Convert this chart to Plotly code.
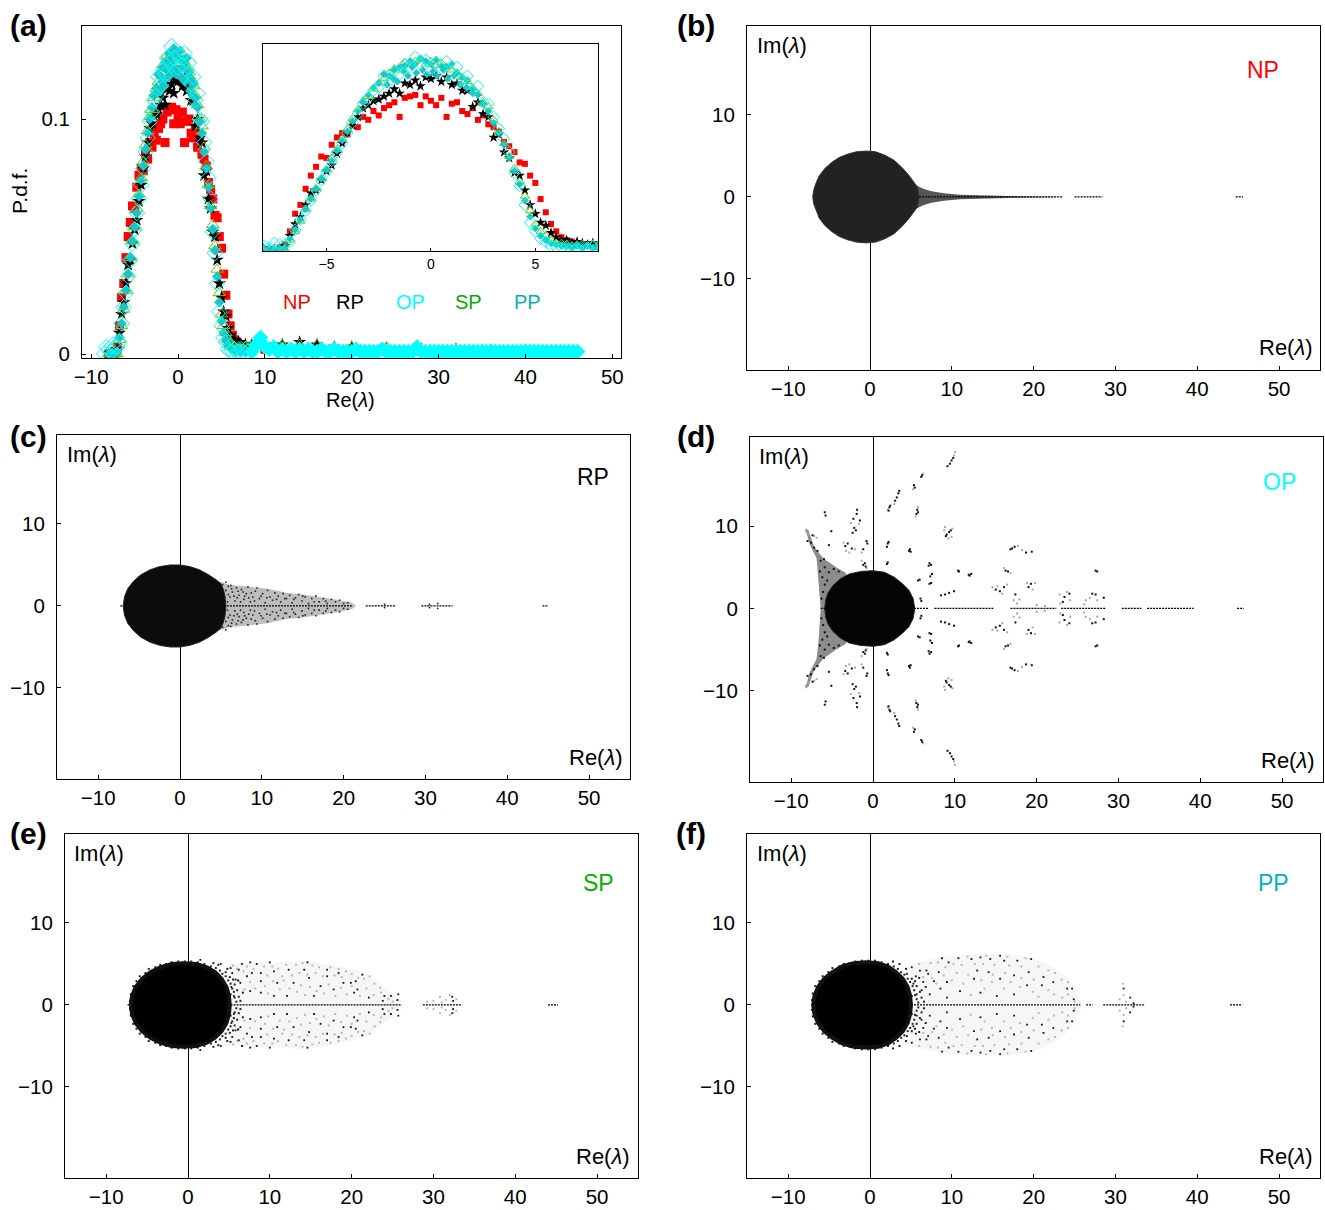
import plotly.graph_objects as go

W, H = 1325, 1210

# ---------- panel (a): probability density of Re(lambda) ----------
core_re = [-8,-7.75,-7.5,-7.25,-7,-6.75,-6.5,-6.25,-6,-5.75,-5.5,-5.25,-5,
           -4.75,-4.5,-4.25,-4,-3.75,-3.5,-3.25,-3,-2.75,-2.5,-2.25,-2,-1.75,
           -1.5,-1.25,-1,-.75,-.5,-.25,0,.25,.5,.75,1,1.25,1.5,
           1.75,2,2.25,2.5,2.75,3,3.25,3.5,3.75,4,4.25,4.5,4.75,
           5,5.25,5.5,5.75,6,6.25,6.5,6.75,7,7.25,7.5,7.75,8]
np_pdf = [0,0,0,.001,.003,.012,.024,.03,.041,.05,.056,.063,.062,
          .071,.076,.079,.078,.085,.083,.09,.088,.094,.091,.096,.098,.1,
          .09,.103,.104,.105,.098,.104,.101,.098,.103,.09,.099,.1,.094,
          .092,.096,.088,.091,.085,.083,.08,.073,.07,.066,.059,.058,.05,
          .045,.034,.025,.017,.012,.008,.006,.005,.004,.003,.003,.002,.002]
rp_pdf = [0,0,0,0,.002,.009,.017,.022,.03,.038,.04,.047,.053,
          .057,.065,.072,.079,.084,.09,.096,.098,.101,.102,.104,.106,.109,
          .106,.113,.112,.115,.111,.117,.116,.118,.114,.117,.112,.113,.108,
          .108,.097,.1,.092,.09,.076,.078,.066,.062,.052,.05,.04,.03,
          .024,.018,.016,.011,.008,.006,.006,.004,.005,.004,.003,.004,.002]
sp_pdf = [0,0,0,0,0,.006,.012,.019,.027,.034,.041,.048,.054,
          .062,.068,.075,.082,.089,.095,.101,.104,.109,.113,.116,.12,.123,
          .122,.127,.126,.128,.129,.126,.128,.125,.127,.124,.122,.12,.117,
          .114,.11,.106,.1,.097,.088,.08,.072,.063,.055,.046,.036,.026,
          .017,.012,.009,.006,.004,.004,.003,.002,.003,.002,.002,.003,.002]
op_pdf = [.002,.001,.004,.003,.003,.005,.013,.02,.026,.033,.04,.047,.053,
          .06,.066,.072,.079,.086,.092,.099,.103,.108,.11,.118,.114,.121,
          .119,.126,.124,.131,.126,.129,.122,.127,.123,.128,.121,.124,.115,
          .118,.108,.111,.1,.099,.09,.082,.075,.066,.052,.043,.03,.018,
          .012,.007,.005,.002,.001,.001,.002,.001,.001,.002,.001,.002,.001]
pp_pdf = [0,0,0,0,.001,.007,.013,.02,.027,.034,.041,.048,.054,
          .06,.067,.074,.08,.087,.094,.1,.105,.11,.113,.119,.118,.122,
          .124,.125,.128,.126,.13,.128,.126,.129,.125,.124,.126,.12,.117,
          .115,.109,.105,.099,.094,.086,.079,.071,.062,.053,.044,.033,.022,
          .014,.009,.006,.004,.003,.002,.002,.001,.002,.001,.002,.001,.001]
pp_peak_re = [-2.1,-1.8,-1.6,-1.3,-1.1,-.9,-.7,-.4,-.2,.1,.3,.6,.8,1.1,1.4,1.7,2]
pp_peak = [.112,.116,.114,.121,.118,.124,.12,.122,.119,.121,.118,.122,.116,.118,.112,.11,.106]

tail_re = [8.5,10,12,14,16,18,20,24,28,32,36,40,44]
rp_tail = [.004,.004,.004,.005,.004,.003,.003,.002,.002,.002,.001,.001,.001]
sp_tail = [.004,.004,.004,.004,.004,.003,.003,.003,.002,.002,.002,.002,.001]
np_tail = [.003,.002,.002,.002,.001,.001,.001,.001,.001,.001,.001,.001,.001]

op_tail_re = [8.5,9,9.5,10,10.5,11,11.5,12,12.5,13,13.5,14,14.5,
              15,15.5,16,16.5,17,17.5,18,18.5,19,19.5,20,20.5,21,
              21.5,22,22.5,23,23.5,24,24.5,25,25.5,26,26.5,27,27.5,
              28,28.5,29,29.5,30,30.5,31,31.5,32,32.5,33,33.5,34,
              34.5,35,35.5,36,36.5,37,37.5,38,38.5,39,39.5,40,40.5,
              41,41.5,42,42.5,43,43.5,44,44.5,45,45.5,46]
op_tail = [.001,.004,.007,.003,.002,.003,.001,.002,.001,.002,.001,.002,.001,
           .002,.001,.001,.002,.001,.001,.002,.001,.001,.001,.001,.002,.001,
           .001,.001,.001,.001,.002,.001,.001,.001,.001,.001,.001,.001,.003,
           .001,.001,.001,.001,.001,.001,.001,.001,.001,.001,.001,.001,.001,
           .001,.001,.001,.001,.001,.001,.001,.001,.001,.001,.001,.001,.001,
           .001,.001,.001,.001,.001,.001,.001,.001,.001,.001,.001]
op_left_re = [-8.5,-8.25]
op_left = [0,.003]

series_names = ["NP", "RP", "OP", "SP", "PP"]

# ---------- spectra: upper half-plane (the spectrum is symmetric about Im = 0) ----------
b_blob = [(-7,0),(-6.9,.8),(-6.6,1.7),(-6.2,2.6),(-5.5,3.5),(-4.7,4.2),(-3.8,4.8),(-2.8,5.2),(-1.7,5.5),
          (-.5,5.6),(.7,5.5),(1.8,5.1),(2.9,4.5),(3.9,3.6),(4.7,2.7),(5.3,1.9),(5.8,1.2),(6,0)]
b_tail = [(5.5,1.5),(6.5,1.0),(7.5,.7),(9,.45),(11,.28),(14,.18),(18,.1),(22,.04),(23,0)]
b_axis = [(6,23.5),(25,28.4),(44.7,45.6)]

c_blob = [(-6.95,0),(-6.8,1.1),(-6.4,2.1),(-5.7,3),(-4.8,3.8),(-3.7,4.4),(-2.5,4.8),(-1.2,5),(0,5),
          (1.2,4.8),(2.4,4.4),(3.5,3.8),(4.4,3.2),(5,2.7),(5.3,2),(5.5,1.2),(5.6,0)]
c_tail = [(4.8,3),(6,2.6),(8,2.4),(10.7,2.1),(13,1.6),(15,1.4),(17,1.1),(19,.8),(21,.4),(21.5,0)]
c_axis = [(-7.3,-6.9),(5,21),(22.7,26.4),(29.5,33.3),(44.3,45)]
c_dark = [(5.2,2.6),(5.6,1.9),(5.9,2.4),(6.1,1.1),(6.4,1.7),(6.7,.6),(6.9,2.2),(7.2,1.3),(7.5,2),(7.8,.8),
          (8.1,1.5),(8.3,2.3),(8.6,.5),(8.9,1.1),(9.2,1.8),(9.4,2.2),(9.7,.9),(10.1,1.5),(10.4,.4),(10.7,1.9),
          (11,1.1),(11.3,.7),(11.6,1.6),(12,1.2),(12.3,.5),(12.6,1.5),(13,.9),(13.4,1.3),(13.7,.4),(14.1,1),
          (14.5,1.4),(14.9,.6),(15.3,1.1),(15.7,.3),(16.1,.9),(16.6,1.2),(17,.5),(17.5,.9),(18,.3),(18.5,.8),
          (19,.5),(19.5,.7),(20,.3),(20.5,.4),(5.4,1.1),(5.8,.5),(6.3,2.1),(7,1),(7.7,1.7),(8.4,1),
          (5.6,2.9),(5.9,1.4),(6.2,2.5),(6.6,1.2),(7.1,1.8),(7.4,.5),(7.9,1.2),(8.7,1.6),(9.1,.6),(9.9,1.2),
          (10.6,1),(11.8,.8),(12.8,.9),(13.9,.8),(15,1.2),(16.4,.5),(17.8,.6),(25,.2),(30.5,.2),(31.5,.3)]

e_blob = [(-7,0),(-6.85,1.1),(-6.4,2.2),(-5.6,3.2),(-4.6,4),(-3.4,4.6),(-2,5),(-.5,5.1),(1,5),
          (2.3,4.6),(3.3,4),(4.1,3.2),(4.7,2.2),(5,1.1),(5.1,0)]
e_tail = [(5,5),(8,5.2),(11,5.2),(14.5,5.4),(18,4.8),(21,4.1),(23,3),(25,1.5),(26.5,0)]
e_axis = [(-7.4,-6.9),(5.2,26),(28.7,33.5),(44,45.2)]
e_dark = [(1.5,5.5),(4,5),(5.4,3.9),(6.6,5),(7.6,5.2),(8.4,5),(10,5.2),(7.2,3.5),(8.9,1.5),(8.9,2.9),
          (10.5,4.1),(12.3,4.3),(14.2,4.3),(14.6,5.2),(17,4.3),(18.4,3.9),(19,2.7),(20.5,2.9),(21.3,3.7),
          (20.7,1.9),(16.2,2.3),(15.4,1.1),(12.1,1.1),(10.5,1.1),(7.6,1.7),(10.9,2.7),(12.9,2.7),(14.8,3.3),
          (8.9,3.9),(7.8,3.9),(6.4,2.7),(5.6,1.1),(24,1.1),(24.8,1.1),(25.7,1.3),(25.6,.6),(32.4,.5),(32.3,1),
          (23.8,.5),(22.1,.9),(20.3,1.5),(17.8,1.9),(17,3.5),(19.9,2.7),(5.3,2.2),(5.8,3.1),(6.2,4.3),(5.2,4.5)]
e_edge = [(-7.1,.5),(-7,1.3),(-6.7,2.3),(-6.3,2.9),(-5.9,3.5),(-5.2,3.9),(-4.8,4.4),(-4,4.6),(-3.4,4.9),(-2.7,5),
          (-2,5.2),(-1.2,5.3),(-.4,5.3),(.4,5.3),(1.2,5.2),(2,5),(2.8,4.7),(3.4,4.5),(3.9,4.2),(4.2,3.8),
          (4.6,3.5),(4.9,3),(5.2,2.6),(5.4,2),(5.6,1.6),(5.7,.9),(5.9,.4),(4.6,4),(5.1,3.4),(5.7,2.5),
          (6,1.8),(6.2,1),(6.4,.5),(6.7,1.5),(6.1,3),(5.5,3.1),(4.8,4.4),(3.7,4.9),(3.1,5.1),(5.2,1.3)]
e_grey = [(5.5,4.8),(6,4.4),(6.8,4.1),(7.2,4.7),(8,4.4),(9.3,4.7),(9.7,3.6),(10.3,4.7),(11,4.4),(11.5,3.5),
          (12,4.9),(12.7,3.6),(13.2,4.9),(13.6,3.9),(14,5.1),(14.6,3.7),(15.2,4.8),(15.6,3.9),(16,4.6),(16.5,3.5),
          (17.4,4.6),(17.9,3.6),(18.4,4.4),(18.8,3.4),(19.3,4.1),(20,3.8),(20.8,3.3),(21.5,3.2),(22.2,3.5),(22.8,2.6),
          (23.5,2.1),(6.2,2.9),(6.9,1.9),(7.6,2.8),(8.2,2),(9.4,2.3),(9.8,1.4),(10.4,2.9),(11.2,1.9),(11.7,3),
          (12.4,2),(13.3,1.6),(13.8,2.4),(14.3,1.2),(14.9,2.2),(15.7,1.7),(16.6,1.4),(17.2,2.5),(18,1.1),(18.7,2.1),
          (19.4,1.3),(20,2.3),(21,1.1),(21.8,2),(22.7,1.2),(23.6,1.5),(24.5,.7),(25,.4),(29.2,.4),(30,.5),
          (30.8,1),(31.5,.6),(32,1.2),(32.8,.7),(31,.3)]

f_blob = [(-6.95,0),(-6.8,1.1),(-6.35,2.2),(-5.6,3.2),(-4.6,4),(-3.4,4.7),(-2,5.1),(-.5,5.2),(1,5.1),
          (2.2,4.7),(3.2,4),(4,3.2),(4.6,2.2),(4.9,1.1),(5,0)]
f_tail = [(5,5),(9,5.9),(13,6.2),(17,6.2),(20,5.7),(22.5,4.6),(24.5,3),(26,0)]
f_axis = [(-7.2,-6.9),(5,25.7),(26.4,27.2),(28.5,33.5),(44,45.5)]
f_dark = [(8.8,5.7),(9.6,5.2),(10.8,5.7),(12.4,5.6),(13.5,5.8),(14.7,5.6),(15.9,6),(16.4,5.4),(18,5.4),(19.7,5.6),
          (19.4,4),(21.2,3.4),(21,2.4),(24.7,2),(24.9,.7),(31,2),(31.8,.9),(32.2,.2),(6.9,4.2),(7.1,3.8),
          (6.1,4.2),(5.1,4.6),(8.4,4),(9.4,2.8),(8.6,2),(11,1.7),(12.7,3.2),(13.1,4.2),(14.5,4),(15.9,3.2),
          (17.6,3.6),(19.2,2.4),(13.5,1.5),(15.5,1.1),(6.5,2.8),(5.7,1.3),(7.3,1.3),(9.4,.9),(17.6,1.3),(22.4,2.8),
          (24.1,2),(5.3,2.6),(5.6,3.5),(6.3,1.8),(7.8,2.9)]
f_edge = [(-7.1,.6),(-7,1.4),(-6.7,2.3),(-6.2,2.9),(-5.8,3.5),(-5.1,4),(-4.6,4.5),(-3.8,4.7),(-3.2,5),(-2.5,5.1),
          (-1.8,5.3),(-1,5.4),(-.2,5.4),(.6,5.4),(1.4,5.2),(2.2,5),(2.9,4.7),(3.4,4.4),(3.8,4),(4.2,3.7),
          (4.6,3.2),(4.9,2.8),(5.2,2.3),(5.4,1.8),(5.5,1.2),(5.7,.7),(5.9,.3),(4.5,3.8),(5.1,3.2),(5.7,2.3),
          (6.1,1.6),(6.3,.9),(6.6,.4),(6.8,2.2),(6,3.3),(5.5,2.9),(4.4,4.4),(3.6,5),(2.8,5.3),(5.1,1.1)]
f_grey = [(6,5),(7.4,5.1),(8.3,5.2),(9.2,4.6),(10.2,5),(11.2,4.9),(11.9,5.9),(12.8,5),(13.8,5),(14.2,6),
          (15.2,4.9),(16.8,5.9),(17,4.8),(18.5,4.7),(19,5.7),(20.6,4.7),(21.8,4.2),(22.6,3.9),(23.4,3.1),(24.2,2.8),
          (6.5,3.4),(7.6,3.3),(8.1,2.6),(9,3.6),(10,3),(10.6,3.9),(11.4,2.6),(12,3.7),(12.3,1.2),(13.6,3),
          (14,2),(14.9,2.8),(15,3.7),(16.4,2),(16.5,3.9),(17.2,2.8),(18.3,2.2),(18.5,3.3),(19.9,1.6),(20,3.1),
          (20.6,1),(21.8,1.8),(22.5,1.3),(23.5,.9),(24.2,1.3),(25,.4),(30.5,.7),(31,1.2),(31.3,.4),(30.9,2.6)]

d_blob = [(-5.9,0),(-5.8,1),(-5.5,1.9),(-4.9,2.8),(-4,3.6),(-2.9,4.2),(-1.5,4.5),(0,4.6),(1.4,4.4),
          (2.6,3.8),(3.6,3),(4.4,2.2),(4.9,1.2),(5.1,0)]
d_wing = [(-6.4,0),(-6.65,3.7),(-6.9,6.1),(-7.7,7.7),(-8.3,9.75),(-7.9,9.5),(-7.2,7.5),(-6.1,6.1),
          (-4.5,5),(-3.3,4.3),(-3,0)]
d_axis = [(5,6.8),(7.5,14.8),(16.8,22.4),(23,28.5),(30.4,32.8),(33.5,39.2),(44.5,45.3)]
d_dark = [(9.4,17.6),(9.6,18),(9.1,17.3),(9.8,18.3),(6,16.2),(5.9,16),(5,15),(5.1,14.7),(3.1,14),(2.9,13.5),
          (3.2,14.3),(2.7,13.1),(2,12.3),(1.9,11.9),(2.1,12.5),(5.4,12),(5.3,11.5),(5.5,11.7),(9,9),(9.3,9.3),
          (9.5,9.5),(8.9,8.8),(1.8,7.9),(1.7,7.5),(1.9,8.1),(4.5,7.2),(4.4,7),(4.6,6.9),(1.7,5.4),(1.8,5.6),
          (6.9,5.5),(7.1,5.3),(6.8,5.2),(10.4,4.6),(10.5,4.5),(11.7,4.1),(12,4.2),(11.8,4),(7.2,4.2),(7,3.9),
          (5.5,3.4),(5.7,3.5),(6.9,3),(7.1,3.1),(8.3,1.6),(8.8,1.7),(9.3,1.9),(9.9,2.1),(5.8,1.2),(5.9,.9),
          (17,7.3),(17.3,7.5),(16.8,7.2),(18.7,6.8),(19.4,6.9),(16.2,4.6),(16.5,4.5),(27.2,4.6),(27.4,4.5),(15,2.3),
          (15.5,2.1),(16,2.6),(19.3,3),(19,2.6),(17.4,1.7),(23.4,1.4),(24,1.8),(23.2,.8),(26.8,1.8),(27.2,1.7),
          (28.2,1.3),(-5.9,11.7),(-5.8,11.3),(-1.95,12),(-2,11.5),(-2.4,10.9),(-1.6,10.7),(-2.3,9.8),(-2.1,9.5),(-2.5,9.2),
          (-5.1,9.4),(-7.4,8.9),(-8,8.2),(-7.6,8),(-7.2,7.4),(-6.8,7),(-5.4,7.7),(-3.1,7.9),(-2.6,7.3),(-3.4,7.6),
          (-1.2,7.2),(-.8,8.2),(-.7,7.9),(-1,5.5),(-.9,5.1),(-1.2,5.3),(-6.4,5.8),(-5.9,5),(-5.4,4.4),(-6.2,3.8),
          (-5.9,2.9),(-6.1,2),(-6.3,1.2),(-5.6,3.4),(-4.8,4.8),(-4.2,4.5),(-6.5,4.5),(-6,6)]
d_grey = [(10,19),(9.9,18.6),(6.1,16.4),(4.9,14.5),(2.6,12.7),(1.8,12),(5.5,12.3),(5.2,11.2),(8.7,9.5),(9.7,9.7),
          (9.2,8.5),(9.6,8.7),(8.8,9.9),(15.2,2.7),(15.8,1.8),(16.4,2.9),(14.6,2.6),(19.8,3.1),(19.5,2.3),(18.8,3.1),
          (17.9,1.1),(17.2,1),(17.6,.6),(22.8,1.7),(23.7,2),(24.1,1),(22.9,.6),(26.5,1.3),(26,1),(27.4,1),
          (25.8,.5),(18.2,7.1),(17.7,7.6),(16,4.9),(16.8,4.3),(21,.3),(20,.4),(-3.6,8),(-2.9,6.8),(-2.2,7.2),
          (-3.3,7),(-1.4,6.8),(-1.7,10.3),(-2.7,10.4),(-1.4,5.8),(-.8,4.9),(-7.2,8.8),(-6.9,8.6),(-8.2,9.4),(-7.9,9)]

# ---------- axis ticks ----------
re_ticks = [-10, 0, 10, 20, 30, 40, 50]
im_ticks = [-10, 0, 10]
inset_ticks = [-5, 0, 5]
pdf_ticks = [0, 0.1]

# ---------- styling / layout ----------
FONT = "Liberation Sans"
RED, GREEN, CYAN, TEAL = "#ff0000", "#00b000", "#00ffff", "#00b4b4"
LAMBDA = "<i>λ</i>"


def dom_x(a, b):
    return [a / W, b / W]


def dom_y(top, bottom):
    return [1 - bottom / H, 1 - top / H]


fig = go.Figure()
axes = {}


def add_axes(n, frame, xr, yr, xt, yt, size=20.5, xstand=0, ystand=7, zero=False, ticklen=4):
    l, r, t, b = frame
    sx = "" if n == 1 else str(n)
    common = dict(showgrid=False, showline=True, linecolor="black", linewidth=1, mirror=True,
                  automargin=False, ticks="inside", ticklen=ticklen, tickcolor="black", tickwidth=1,
                  tickfont=dict(family=FONT, size=size, color="black"))
    axes["xaxis" + sx] = dict(common, domain=dom_x(l, r), range=xr, tickvals=xt, anchor="y" + sx,
                              ticklabelstandoff=xstand,
                              zeroline=zero, zerolinecolor="black", zerolinewidth=1.4)
    axes["yaxis" + sx] = dict(common, domain=dom_y(t, b), range=yr, tickvals=yt, anchor="x" + sx,
                              ticklabelstandoff=ystand, zeroline=False)
    return dict(xaxis="x" + sx, yaxis="y" + sx)


def split(pairs):
    return [p[0] for p in pairs], [p[1] for p in pairs]


def mirrored(pairs):
    xs, ys = split(pairs)
    return xs + xs[::-1], ys + [-v for v in ys[::-1]]


def both_sides(pairs):
    xs, ys = split(pairs)
    return xs + xs, ys + [-v for v in ys]


def poly(ax, pairs, color, edge=None, edge_w=0):
    xs, ys = mirrored(pairs)
    fig.add_trace(go.Scatter(x=xs, y=ys, mode="lines", fill="toself", fillcolor=color,
                             line=dict(color=edge or color, width=edge_w), hoverinfo="skip",
                             showlegend=False, **ax))


def dots(ax, pairs, color, size=2):
    xs, ys = both_sides(pairs)
    fig.add_trace(go.Scatter(x=xs, y=ys, mode="markers", showlegend=False, hoverinfo="skip",
                             marker=dict(symbol="square", size=size, color=color, line=dict(width=0)), **ax))


def axis_runs(ax, runs, dash="2px,1px"):
    xs, ys = [], []
    for a, b in runs:
        xs += [a, b, None]
        ys += [0, 0, None]
    fig.add_trace(go.Scatter(x=xs, y=ys, mode="lines", line=dict(color="black", width=1.2, dash=dash),
                             hoverinfo="skip", showlegend=False, **ax))


XR = [-15.04, 55]
YR = [-21.1, 20.85]
# panel (a) main + inset
ax_a = add_axes(1, (82, 621, 26, 358), [-11.06, 51], [-0.0017, 0.1396], re_ticks, pdf_ticks)
ax_i = add_axes(2, (263, 598, 44, 251), [-8.04, 8], [-0.0014, 0.1397], inset_ticks, [], size=14, xstand=0, ticklen=3)
ax_b = add_axes(3, (747, 1320, 26, 370), XR, YR, re_ticks, im_ticks, zero=True)
ax_c = add_axes(4, (57, 630, 435, 779), XR, YR, re_ticks, im_ticks, zero=True)
ax_d = add_axes(5, (750, 1323, 437, 782), XR, YR, re_ticks, im_ticks, zero=True)
ax_e = add_axes(6, (65, 638, 834, 1178), XR, YR, re_ticks, im_ticks, zero=True)
ax_f = add_axes(7, (747, 1320, 834, 1178), XR, YR, re_ticks, im_ticks, zero=True)

styles = {
    "NP": dict(symbol="square", color=RED, line=dict(width=0)),
    "RP": dict(symbol="star", color="black", line=dict(width=0)),
    "SP": dict(symbol="triangle-up-open", color="#66cc00", line=dict(width=1, color="#66cc00")),
    "PP": dict(symbol="diamond", color="#1cc4c4", line=dict(width=0)),
    "OP": dict(symbol="diamond-open", color=CYAN, line=dict(width=1, color=CYAN)),
}
sizes_main = {"NP": 9, "RP": 10, "SP": 11, "PP": 8, "OP": 12}
sizes_inset = {"NP": 6, "RP": 8, "SP": 8, "PP": 6, "OP": 9}
curves = [("NP", core_re + tail_re, np_pdf + np_tail),
          ("RP", core_re + tail_re, rp_pdf + rp_tail),
          ("SP", core_re + tail_re, sp_pdf + sp_tail),
          ("PP", core_re + pp_peak_re, pp_pdf + pp_peak),
          ("OP", op_left_re + core_re, op_left + op_pdf)]
for ax, sz in ((ax_a, sizes_main), (ax_i, sizes_inset)):
    for name, xs, ys in curves:
        fig.add_trace(go.Scatter(x=xs, y=ys, mode="markers", name=name, showlegend=False,
                                 marker=dict(size=sz[name], **styles[name]), **ax))
# dense OP tail reads as a solid cyan band in the main panel
fig.add_trace(go.Scatter(x=op_tail_re, y=op_tail, mode="markers", name="OP", showlegend=False,
                         marker=dict(symbol="diamond", size=12, color=CYAN, line=dict(width=0)), **ax_a))

# (b)
poly(ax_b, b_tail, "#555555")
poly(ax_b, b_blob, "#222222", "#333333", 1)
axis_runs(ax_b, b_axis)
# (c)
poly(ax_c, c_tail, "#bdbdbd")
dots(ax_c, c_dark, "#222222", 1.6)
poly(ax_c, c_blob, "#0c0c0c", "#222222", 1)
axis_runs(ax_c, c_axis)
# (d)
poly(ax_d, d_wing, "#8c8c8c")
dots(ax_d, d_grey, "#a8a8a8")
dots(ax_d, d_dark, "#111111")
poly(ax_d, d_blob, "#050505", "#222222", 1)
axis_runs(ax_d, d_axis)
axis_runs(ax_d, [(-6.4, -5.5)])
# (e)
poly(ax_e, e_tail, "#f6f6f6")
dots(ax_e, e_grey, "#b8b8b8")
dots(ax_e, e_dark, "#111111", 1.8)
dots(ax_e, e_edge, "#222222")
poly(ax_e, e_blob, "black", "#111111", 4)
axis_runs(ax_e, e_axis)
# (f)
poly(ax_f, f_tail, "#f6f6f6")
dots(ax_f, f_grey, "#b8b8b8")
dots(ax_f, f_dark, "#111111", 1.8)
dots(ax_f, f_edge, "#222222")
poly(ax_f, f_blob, "black", "#111111", 4)
axis_runs(ax_f, f_axis)

annotations = []


def label(txt, x, y, size=20, color="black", angle=0, bold=False):
    if bold:
        txt = "<b>" + txt + "</b>"
    annotations.append(dict(text=txt, x=x / W, y=1 - y / H, xref="paper", yref="paper", showarrow=False,
                            xanchor="center", yanchor="middle", textangle=angle,
                            font=dict(family=FONT, size=size, color=color)))


for t, x, y in [("(a)", 28, 25), ("(b)", 696, 25), ("(c)", 28, 437), ("(d)", 696, 437), ("(e)", 28, 834), ("(f)", 691, 834)]:
    label(t, x, y, size=30, bold=True)

label("P.d.f.", 19, 191, angle=-90, size=21)
label("Re(" + LAMBDA + ")", 351, 400)
for t, x, c in [("NP", 297, RED), ("RP", 350, "black"), ("OP", 410, CYAN), ("SP", 468, GREEN), ("PP", 527, TEAL)]:
    label(t, x, 302, color=c)

panels = [(782, 46, 1286, 348, "NP", 1263, 70, RED),
          (92, 455, 596, 757, "RP", 593, 477, "black"),
          (784, 457, 1288, 760, "OP", 1279, 482, CYAN),
          (99, 853, 603, 1156, "SP", 598, 883, GREEN),
          (782, 853, 1286, 1156, "PP", 1273, 883, TEAL)]
for ix, iy, rx, ry, t, tx, ty, c in panels:
    label("Im(" + LAMBDA + ")", ix, iy, size=22)
    label("Re(" + LAMBDA + ")", rx, ry, size=22)
    label(t, tx, ty, size=23, color=c)

fig.update_layout(width=W, height=H, margin=dict(l=0, r=0, t=0, b=0), paper_bgcolor="white",
                  plot_bgcolor="white", showlegend=False, annotations=annotations, **axes)
fig.write_html("out.html", config={"displayModeBar": False},
               post_script="document.body.style.margin='0';document.body.style.overflow='hidden';")
